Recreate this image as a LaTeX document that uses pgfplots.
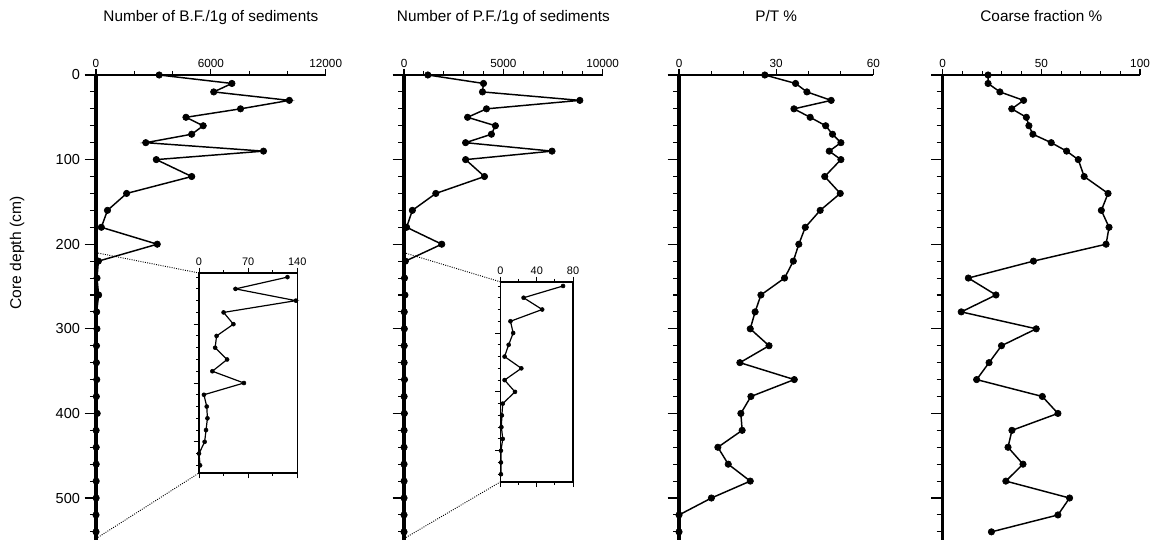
\documentclass[border=0pt]{standalone}
\usepackage{fontspec}
\setmainfont{Liberation Sans}
\usepackage{pgfplots}
\usepackage{pgfplotstable}
\pgfplotsset{compat=1.18}

\pgfplotstableread{
d bf pf pt cf
0 3300 1200 26.5 23
10 7100 4000 36 23
20 6150 3950 39.5 29
30 10100 8850 47 41
40 7550 4150 35.5 35
50 4700 3200 40.5 42.4
60 5600 4600 45.3 43.7
70 5000 4400 47.4 45.7
80 2600 3100 50 55
90 8750 7450 46.4 62.8
100 3150 3100 50 68.7
120 5000 4050 45 71.7
140 1600 1600 49.8 83.8
160 600 420 43.6 80.4
180 280 130 39 84.3
200 3200 1900 37 82.8
220 126 69 35.3 46
240 52 25.5 32.6 13
260 138 46 25.3 27
280 35 11 23.5 9.4
300 49 14 22 47.4
320 25 9 27.8 29.8
340 23 4.5 18.8 23.5
360 40 23 35.6 17.2
380 19 4.5 22.2 50.5
400 64 16 19.1 58.4
420 7 2.5 19.5 35.1
440 11 1.5 12 33.1
460 12 1 15.2 40.7
480 10 2.5 22 32
500 8 0.5 10 64.3
520 0 0.5 0 58.4
540 1.5 0.5 0 24.7
}\datatab

\pgfplotstableread{
d bf pf
220 126 69
240 52 25.5
260 138 46
280 35 11
300 49 14
320 25 9
340 23 4.5
360 40 23
380 19 4.5
400 64 16
420 7 2.5
440 11 1.5
460 12 1
480 10 2.5
500 8 0.5
520 0 0.5
540 1.5 0.5
}\insettab

\pgfplotsset{
  mainax/.style={
    scale only axis, width=#1, height=349pt, anchor=center,
    y dir=reverse, ymin=0, ymax=550, clip=false,
    axis x line*=top, axis y line*=left,
    x axis line style={line width=1.2pt, -},
    y axis line style={line width=2.3pt, -},
    tick align=outside,
    major tick length=4.5pt,
    minor tick length=3pt,
    every tick/.style={black, line width=0.8pt},
    ytick={20,40,60,80,120,140,160,180,220,240,260,280,320,340,360,380,420,440,460,480,520,540},
    yticklabels={},
    extra y ticks={0,100,200,300,400,500},
    extra y tick style={major tick length=8.5pt, tick style={line width=0.9pt}},
    xticklabel style={font=\fontsize{8.8}{10}\selectfont, inner sep=1pt},
    yticklabel style={font=\fontsize{10.9}{12}\selectfont},
    scaled x ticks=false,
  },
  inax/.style={
    scale only axis, width=#1, height=150pt, anchor=center,
    y dir=reverse, ymin=213, ymax=553, clip=false,
    axis line style={line width=1.1pt},
    tick align=outside,
    xticklabel pos=upper,
    ytick pos=left,
    ytick={300,400,500}, yticklabels={},
    minor ytick={220,240,260,280,320,340,360,380,420,440,460,480,520,540},
    major tick length=4pt, minor tick length=2.2pt,
    every tick/.style={black, line width=0.7pt},
    xticklabel style={font=\fontsize{8.2}{9}\selectfont, inner sep=1pt},
  },
  mainplot/.style={black, line width=1.1pt, mark=*, mark size=2.4pt, mark options={fill=black, line width=0.5pt}},
  inplot/.style={black, line width=0.9pt, mark=*, mark size=1.5pt, mark options={fill=black, line width=0.4pt}},
}

\begin{document}
\begin{tikzpicture}
\path[use as bounding box] (0,0) rectangle (870pt,-408.75pt);

% Panel 1
\begin{axis}[mainax=172.3pt, name=p1, at={(158.14pt,-230.74pt)},
  xmin=0, xmax=12000, xtick={0,6000,12000}, xticklabels={0,6000,12000},
  minor xtick={2000,4000,8000,10000},
  extra y tick labels={0,100,200,300,400,500}]
\addplot[mainplot] table[x=bf, y=d] {\datatab};
\coordinate (p1a) at (axis cs:0,210);
\coordinate (p1b) at (axis cs:0,548);
\end{axis}

% Panel 2
\begin{axis}[mainax=149.0pt, name=p2, at={(377.51pt,-230.74pt)},
  xmin=0, xmax=10000, xtick={0,5000,10000}, xticklabels={0,5000,10000},
  minor xtick={1000,2000,3000,4000,6000,7000,8000,9000},
  extra y tick labels={}]
\addplot[mainplot] table[x=pf, y=d] {\datatab};
\coordinate (p2a) at (axis cs:0,210);
\coordinate (p2b) at (axis cs:0,548);
\end{axis}

% Panel 3
\begin{axis}[mainax=145.7pt, name=p3, at={(582.11pt,-230.74pt)},
  xmin=0, xmax=60, xtick={0,30,60}, xticklabels={0,30,60},
  minor xtick={10,20,40,50},
  extra y tick labels={}]
\addplot[mainplot] table[x=pt, y=d] {\datatab};
\end{axis}

% Panel 4
\begin{axis}[mainax=148.0pt, name=p4, at={(781.01pt,-230.74pt)},
  xmin=0, xmax=100, xtick={0,50,100}, xticklabels={0,50,100},
  minor xtick={10,20,30,40,60,70,80,90},
  extra y tick labels={}]
\addplot[mainplot] table[x=cf, y=d] {\datatab};
\end{axis}

% Inset 1
\begin{axis}[inax=73.7pt, name=i1, at={(186.11pt,-279.75pt)},
  xmin=0, xmax=140, xtick={0,70,140}, xticklabels={0,70,140}, minor xtick={35,105}]
\addplot[inplot] table[x=bf, y=d] {\insettab};
\coordinate (i1a) at (axis cs:0,213);
\coordinate (i1b) at (axis cs:0,553);
\end{axis}

% Inset 2
\begin{axis}[inax=54.4pt, name=i2, at={(402.56pt,-286.39pt)},
  xmin=0, xmax=80, xtick={0,40,80}, xticklabels={0,40,80}, minor xtick={20,60}]
\addplot[inplot] table[x=pf, y=d] {\insettab};
\coordinate (i2a) at (axis cs:0,213);
\coordinate (i2b) at (axis cs:0,553);
\end{axis}

\draw[densely dotted, line width=0.7pt] (p1a) -- (i1a);
\draw[densely dotted, line width=0.7pt] (p1b) -- (i1b);
\draw[densely dotted, line width=0.7pt] (p2a) -- (i2a);
\draw[densely dotted, line width=0.7pt] (p2b) -- (i2b);

\begin{scope}[font=\fontsize{11.5}{13}\selectfont]
\node[anchor=base] at (158.14pt,-16.5pt) {Number of B.F./1g of sediments};
\node[anchor=base] at (377.51pt,-16.5pt) {Number of P.F./1g of sediments};
\node[anchor=base] at (582.11pt,-16.5pt) {P/T \%};
\node[anchor=base] at (781.01pt,-16.5pt) {Coarse fraction \%};
\end{scope}
\node[rotate=90, font=\fontsize{11.7}{13}\selectfont] at (12.75pt,-189.75pt) {Core depth (cm)};
\end{tikzpicture}
\end{document}
